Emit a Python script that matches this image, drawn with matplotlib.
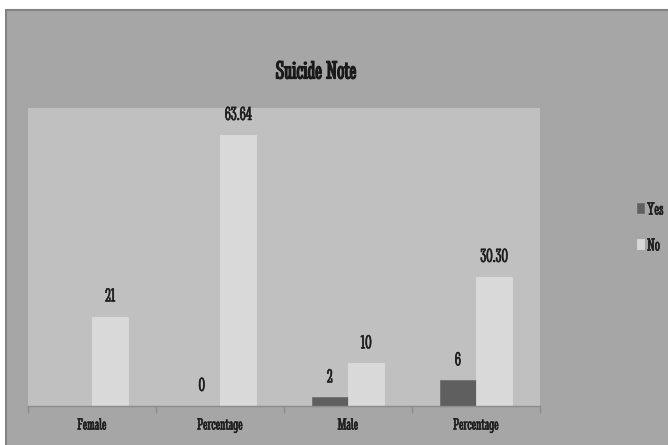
import matplotlib
matplotlib.use("Agg")
import matplotlib.pyplot as plt
import matplotlib.patheffects as pe
import numpy as np
from matplotlib.patches import Rectangle

categories = ["Female", "Percentage", "Male", "Percentage"]
yes_values = [np.nan, 0, 2, 6]
no_values = [21, 63.64, 10, 30.30]
yes_labels = ["", "0", "2", "6"]
no_labels = ["21", "63.64", "10", "30.30"]

FONT = ["Stint Ultra Condensed", "DejaVu Serif"]
TEXT_COLOR = "#1e1e1e"
fig = plt.figure(figsize=(6.68, 4.45), dpi=100)
fig.patch.set_facecolor("white")

# chart frame
W, H = 668, 445
frame = Rectangle((6 / W, -0.01), 1 - 6 / W + 0.02, 1 - 10 / H + 0.01, transform=fig.transFigure,
                  facecolor="#a6a6a6", edgecolor="#838383", linewidth=1.5, zorder=-5)
fig.patches.append(frame)

ax = fig.add_axes([28 / W, 1 - 406 / H, (540 - 28) / W, (406 - 108) / H])
ax.set_zorder(1)
ax.set_facecolor("#c0c0c0")
for s in ["top", "right", "left"]:
    ax.spines[s].set_visible(False)
ax.spines["bottom"].set_color("#8c8c8c")
ax.spines["bottom"].set_linewidth(1.0)

x = np.arange(len(categories))
bw = 0.285
ax.bar(x - bw / 2, yes_values, bw, color="#5f5f5f", edgecolor="#6a6a6a", linewidth=0.5, label="Yes")
ax.bar(x + bw / 2, no_values, bw, color="#d9d9d9", edgecolor="#dedede", linewidth=0.5, label="No")

# light stroke thickens the thin condensed glyphs
thick = [pe.withStroke(linewidth=0.4, foreground=TEXT_COLOR)]

ax.set_xlim(-0.5, len(categories) - 0.5)
ax.set_ylim(0, 70)
ax.set_yticks([])
ax.set_xticks(x)
ax.set_xticklabels(categories, fontsize=12, family=FONT, color=TEXT_COLOR, path_effects=thick)
ax.tick_params(axis="x", length=0, pad=9)
# category separators
ax.set_xticks(np.arange(len(categories) + 1) - 0.5, minor=True)
ax.tick_params(axis="x", which="minor", length=5, color="#8c8c8c", width=1)

for i in range(len(categories)):
    if yes_labels[i]:
        ax.annotate(yes_labels[i], (x[i] - bw / 2, yes_values[i]), xytext=(0, 8),
                    textcoords="offset points", ha="center", va="bottom", fontsize=14,
                    family=FONT, color=TEXT_COLOR, path_effects=thick)
    ax.annotate(no_labels[i], (x[i] + bw / 2, no_values[i]), xytext=(0, 8),
                textcoords="offset points", ha="center", va="bottom", fontsize=14,
                family=FONT, color=TEXT_COLOR, path_effects=thick)

fig.text(316 / W, 1 - 72 / H, "Suicide Note", ha="center", va="center", fontsize=18.5,
         fontweight="bold", family=FONT, color="#1a1a1a",
         path_effects=[pe.withStroke(linewidth=0.9, foreground="#1a1a1a")])

leg = fig.legend(loc="center left", bbox_to_anchor=(621 / W, 1 - 228 / H), frameon=False,
                 handlelength=0.4, handleheight=0.5, handletextpad=0.15, labelspacing=1.05,
                 prop={"family": FONT, "size": 13})
for t in leg.get_texts():
    t.set_color(TEXT_COLOR)
    t.set_path_effects(thick)

fig.savefig("out.png", dpi=100, facecolor=fig.get_facecolor())
